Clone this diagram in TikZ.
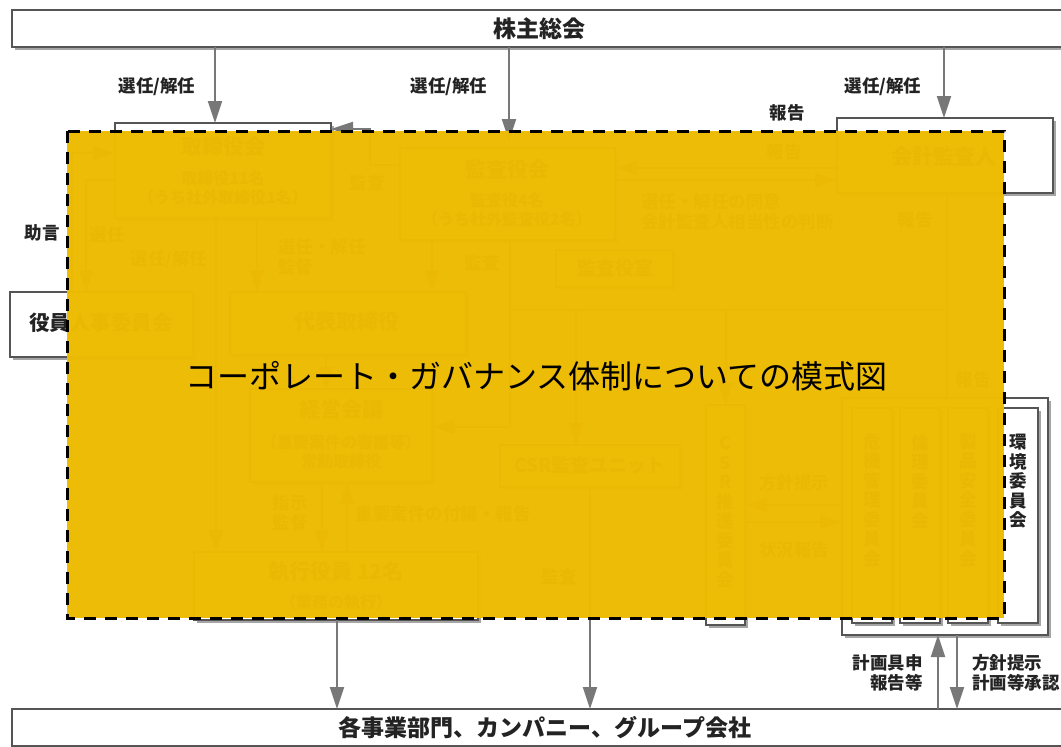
\documentclass[tikz,border=0pt]{standalone}
\usepackage{fontspec}
\newfontfamily\jp{Noto Sans CJK JP}
\usetikzlibrary{arrows.meta,shadows}
\definecolor{boxc}{RGB}{85,85,85}
\definecolor{arrc}{RGB}{120,120,120}
\definecolor{shc}{RGB}{165,165,165}
\definecolor{ovc}{RGB}{237,187,2}
\definecolor{txc}{RGB}{35,35,35}
\newcommand\mkbox[6][]{\node[box,#1,minimum width={#5-#3},minimum height={#6-#4}] (#2) at ({(#3+#5)/2},{(#4+#6)/2}) {};}
\begin{document}
\begin{tikzpicture}[x=1pt,y=-1pt,
  box/.style={draw=boxc,line width=1.4pt,fill=white,inner sep=0pt,outer sep=0pt,
    drop shadow={shadow xshift=3pt,shadow yshift=-3pt,fill=shc,opacity=1}},
  lbl/.style={font=\jp\bfseries\fontsize{17.5}{20}\selectfont,text=txc,inner sep=0pt,align=center},
  big/.style={font=\jp\bfseries\fontsize{21}{24}\selectfont,text=txc,inner sep=0pt,align=center},
  bar/.style={font=\jp\bfseries\fontsize{23}{26}\selectfont,text=txc,inner sep=0pt},
  small/.style={font=\jp\bfseries\fontsize{16}{19}\selectfont,text=txc,inner sep=0pt,align=center},
  vlbl/.style={font=\jp\bfseries\fontsize{17.5}{19.5}\selectfont,text=txc,inner sep=0pt,align=center},
  arr/.style={draw=arrc,line width=2pt,-{Triangle[width=14pt,length=22pt]}},
  ln/.style={draw=arrc,line width=2pt},
]
\useasboundingbox (0,0) rectangle (1061,747);

% ---- bars ----
\mkbox{kabu}{12}{10}{1066}{47}
\node[bar] (kabuT) at (539,29) {株主総会};
\mkbox{jigyo}{12}{709}{1078}{746}
\node[bar] (jigyoT) at (545,728) {各事業部門、カンパニー、グループ会社};

% ---- boxes ----
\mkbox{tori}{115}{123}{331}{218}
\mkbox{kansa}{400}{148}{615}{240}
\mkbox{kaikei}{837}{118}{1053}{193}
\mkbox{kshitsu}{556}{250}{673}{287}
\mkbox{jinji}{10}{292}{193}{357}
\mkbox{daihyo}{230}{292}{466}{355}
\mkbox{keiei}{250}{389}{432}{482}
\mkbox{csrunit}{500}{445}{680}{487}
\mkbox{shikko}{194}{552}{478}{620}
\mkbox{csrs}{706}{405}{745}{625}
\mkbox{iinkai}{842}{398}{1048}{635}
\mkbox{c1}{852}{408}{892}{623}
\mkbox{c2}{900}{408}{940}{623}
\mkbox{c3}{948}{408}{988}{623}
\mkbox{kankyo}{998}{408}{1038}{623}

% ---- box texts ----
\node[big] (toriT) at (223,147) {取締役会};
\node[small] (toriS) at (223,188) {取締役11名\\（うち社外取締役1名）};
\node[big] (kansaT) at (507,170) {監査役会};
\node[small] (kansaS) at (507,210) {監査役4名\\（うち社外監査役2名）};
\node[big] (kaikeiT) at (944,157) {会計監査人};
\node[big,font=\jp\bfseries\fontsize{19}{22}\selectfont] (kshitsuT) at (615,268) {監査役室};
\node[big,font=\jp\bfseries\fontsize{20.5}{24}\selectfont] (jinjiT) at (101,323) {役員人事委員会};
\node[big] (daihyoT) at (347,322) {代表取締役};
\node[big] (keieiT) at (341,409) {経営会議};
\node[small] (keieiS) at (341,452) {（重要案件の審議等）\\常勤取締役};
\node[big] (shikkoT) at (336,572) {執行役員 12名};
\node[small] (shikkoS) at (336,603) {（業務の執行）};
\node[big,font=\jp\bfseries\fontsize{19}{22}\selectfont] (csrunitT) at (590,465) {CSR監査ユニット};
\node[vlbl] (csrsT) at (725.5,512) {C\\S\\R\\推\\進\\委\\員\\会};
\node[vlbl] (c1T) at (872,500) {危\\機\\管\\理\\委\\員\\会};
\node[vlbl] (c2T) at (920,481.5) {倫\\理\\委\\員\\会};
\node[vlbl] (c3T) at (968,500) {製\\品\\安\\全\\委\\員\\会};
\node[vlbl] (kankyoT) at (1018,481.5) {環\\境\\委\\員\\会};

% ---- connectors ----
\draw[arr] (kabu.south -| 215,0) -- (tori.north -| 215,0);
\draw[arr,shorten >=7pt] (kabu.south -| 509,0) -- (kansa.north -| 509,0);
\draw[arr] (kabu.south -| 944,0) -- (kaikei.north -| 944,0);
\draw[arr] (jinji.north -| 72,0) |- (tori.west |- 0,153);
\draw[arr] (tori.west |- 0,180) -| (jinji.north -| 86,0);
\draw[arr] (tori.south -| 216,0) -- (shikko.north -| 216,0);
\draw[arr] (tori.south -| 257,0) -- (daihyo.north -| 257,0);
\draw[arr] (kansa.west |- 0,165) -| (370,129) -- (tori.east |- 0,129);
\draw[arr] (kansa.south -| 432,0) -- (daihyo.north -| 432,0);
\draw[arr] (kansa.south -| 510,0) |- (keiei.east |- 0,427);
\draw[ln] (510,310) -- (947,310);
\draw[ln] (kaikei.south -| 947,0) -- (iinkai.north -| 947,0);
\draw[arr] (csrs.north |- 0,310) -- (csrs.north);
\draw[arr] (576,310) -- (csrunit.north -| 576,0);
\draw[arr] (kaikei.west |- 0,168) -- (kansa.east |- 0,168);
\draw[arr] (kansa.east |- 0,180) -- (kaikei.west |- 0,180);
\draw[arr] (daihyo.south -| 326,0) -- (keiei.north -| 326,0);
\draw[arr] (keiei.south -| 322,0) -- (shikko.north -| 322,0);
\draw[arr] (shikko.north -| 347,0) -- (keiei.south -| 347,0);
\draw[arr] (iinkai.west |- 0,505) -- (csrs.east |- 0,505);
\draw[arr] (csrs.east |- 0,522) -- (iinkai.west |- 0,522);
\draw[arr] (shikko.south -| 337,0) -- (jigyo.north -| 337,0);
\draw[arr] (csrunit.south -| 590,0) -- (jigyo.north -| 590,0);
\draw[arr] (jigyo.north -| 938,0) -- (iinkai.south -| 938,0);
\draw[arr] (iinkai.south -| 957,0) -- (jigyo.north -| 957,0);

% ---- labels ----
\node[lbl] (l1) at (157,87) {選任/解任};
\node[lbl] (l2) at (449,87) {選任/解任};
\node[lbl] (l3) at (883,87) {選任/解任};
\node[lbl] (l4) at (787,113) {報告};
\node[lbl] (l5) at (42,233) {助言};
\node[lbl] (l6) at (107,235) {選任};
\node[lbl] (l7) at (169,260) {選任/解任};
\node[lbl,align=left,anchor=west] (l8) at (278,257) {選任・解任\\監督};
\node[lbl] (l9) at (367,183) {監査};
\node[lbl] (l10) at (482,263) {監査};
\node[lbl] (l11) at (784,152) {報告};
\node[lbl] (l12) at (915,220) {報告};
\node[lbl] (l13) at (973,380) {報告};
\node[lbl,align=left,anchor=west] (l14) at (641,212) {選任・解任の同意\\会計監査人相当性の判断};
\node[lbl] (l15) at (290,513) {指示\\監督};
\node[lbl] (l16) at (443,514) {重要案件の付議・報告};
\node[lbl] (l17) at (794,483) {方針提示};
\node[lbl] (l18) at (794,550) {状況報告};
\node[lbl] (l19) at (559,577) {監査};
\node[lbl,align=right,anchor=east] (l20) at (923,673) {計画具申\\報告等};
\node[lbl,align=left,anchor=west] (l21) at (972,673) {方針提示\\計画等承認};

% ---- overlay ----
\fill[ovc,opacity=0.985] (67,131) rectangle (1004,618);
\draw[black,line width=3pt,dash pattern=on 12pt off 9pt] (67,131) rectangle (1004,618);
\node[font=\jp\fontsize{32}{36}\selectfont,text=black,inner sep=0pt] (title) at (536.5,376) {コーポレート・ガバナンス体制についての模式図};
\end{tikzpicture}
\end{document}
